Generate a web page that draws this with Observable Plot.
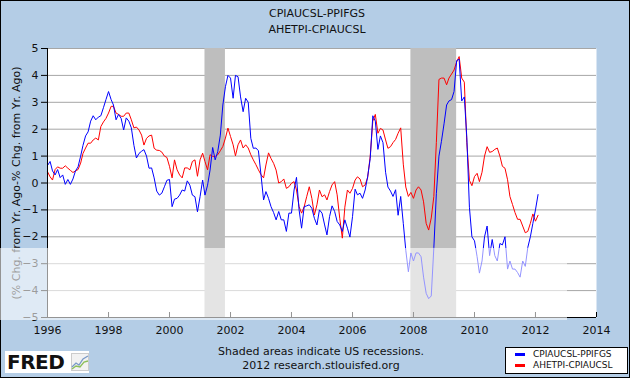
<!DOCTYPE html>
<html><head><meta charset="utf-8">
<script src="https://cdn.jsdelivr.net/npm/d3@7"></script>
<script src="https://cdn.jsdelivr.net/npm/@observablehq/plot@0.6"></script>
<style>
html,body{margin:0;padding:0;background:#fff;}
#chart{position:relative;width:630px;height:378px;background:#b4cde6;box-shadow:inset 0 0 0 1px #000;overflow:hidden;font-family:"DejaVu Sans",sans-serif;color:#111;}
#chart svg.plot{position:absolute;left:0;top:0;}
.t{position:absolute;text-align:center;font-size:11px;line-height:16px;white-space:nowrap;}
#legend{position:absolute;left:505px;top:347px;width:121px;height:25px;background:#fff;border:1px solid #000;font-size:9px;}
#legend .row{position:absolute;left:0;height:11px;line-height:11px;}
#legend .sw{position:absolute;left:9px;top:4px;width:10px;height:3px;}
#legend .lb{position:absolute;left:27px;top:0;white-space:nowrap;}
#logo{position:absolute;left:5px;top:351px;width:84px;height:22px;background:#fff;}
#logo span{position:absolute;left:2px;top:-1px;font-weight:bold;font-size:20px;line-height:24px;color:#111;letter-spacing:-0.5px;}
#logo svg{position:absolute;left:66px;top:2px;}
#wm{position:absolute;left:0;top:248px;width:567px;height:72px;background:rgba(255,255,255,0.58);z-index:5;}
</style>
</head><body>
<div id="chart"></div>
<script>
// Monthly observations, Jan 1996 .. Feb 2012
const startYear = 1996;
const cpiPpi = [ // CPIAUCSL-PPIFGS
  0.65, 0.8, 0.45, 0.3, 0.5, 0.2, 0.3, -0.05, 0.13, -0.05, 0.15, 0.45,
  0.6, 1.0, 1.4, 1.75, 1.9, 2.3, 2.5, 2.35, 2.45, 2.5, 2.8, 3.1,
  3.4, 3.1, 2.9, 2.35, 2.55, 2.4, 1.97, 2.42, 2.3, 2.05, 1.4, 0.93,
  1.1, 1.18, 1.24, 1.0, 0.55, 0.56, 0.19, -0.3, -0.45, -0.38, -0.14, 0.1,
  0.13, -0.88, -0.6, -0.57, -0.45, -0.26, -0.3, 0.08, -0.08, -0.45, -0.51, -1.07,
  -0.51, 0.11, -0.45, -0.08, 0.48, 1.32, 0.86, 1.17, 1.78, 2.9, 3.58, 4.0,
  3.9, 3.15, 4.0, 3.95, 3.2, 2.65, 3.15, 3.0, 1.66, 1.29, 1.3, 1.2,
  0.3, -0.63, -0.32, -0.57, -0.88, -1.1, -1.37, -1.06, -1.37, -1.37, -1.8, -1.12,
  -1.12, -0.26, 0.21, -1.0, -1.68, -0.88, -0.85, -0.81, -0.94, -1.31, -1.56, -1.0,
  -1.12, -1.56, -1.93, -1.25, -0.85, -1.06, -1.43, -1.56, -1.8, -1.37, -1.68, -2.01,
  -1.25, -0.23, -0.44, -0.38, -0.57, -0.26, 0.23, 0.91, 2.5, 2.3, 1.25, 1.75,
  1.5, 0.4, -0.15, -0.3, -0.5, -0.25, -1.2, -0.5, -1.5, -2.5, -3.3, -2.6,
  -2.9, -2.6, -2.6, -2.74, -3.5, -4.1, -4.3, -4.2, -2.4, -0.4, 1.0, 1.55,
  2.2, 2.9, 3.05, 3.1, 3.4, 4.55, 4.6, 3.05, 3.2, 1.7, -0.9, -2.0,
  -2.15, -2.74, -3.35, -2.9, -2.0, -1.6, -2.7, -2.1, -2.7, -2.9, -2.25, -2.3,
  -2.0, -3.2, -2.9, -3.2, -3.2, -3.33, -3.5, -2.9, -3.1, -2.4, -2.0, -1.5,
  -1.0, -0.43
];
const ahetpiCpi = [ // AHETPI-CPIAUCSL
  0.42, 0.23, 0.11, 0.5, 0.6, 0.55, 0.55, 0.64, 0.55, 0.47, 0.39, 0.45,
  0.5, 0.74, 1.1, 1.3, 1.48, 1.48, 1.6, 1.67, 1.6, 2.1, 2.27, 2.4,
  2.6, 2.85, 2.85, 2.6, 2.55, 2.48, 2.48, 2.6, 2.6, 2.35, 2.05, 2.08,
  1.97, 1.78, 1.41, 1.66, 1.75, 1.78, 1.29, 1.22, 1.21, 1.15, 1.0, 0.95,
  0.62, 0.19, 0.86, 0.49, 0.3, 0.19, 0.56, 0.56, 0.49, 0.8, 0.86, 0.25,
  0.86, 1.11, 0.8, 0.49, 1.05, 0.99, 0.99, 1.05, 1.2, 1.36, 1.67, 2.04,
  1.73, 1.42, 1.01, 1.42, 1.6, 1.3, 1.42, 1.3, 1.05, 0.86, 0.68, 0.49,
  0.31, 0.19, 0.67, 1.12, 0.91, 0.73, 0.48, 0.0, 0.05, 0.15, -0.2, -0.14,
  -0.01, 0.05, -0.26, -0.88, -1.12, -0.88, -0.51, -0.14, -0.57, -1.19, -0.81, -0.26,
  -0.51, -0.44, -0.63, -0.32, -0.07, 0.05, -0.44, -1.31, -2.05, -0.9, -0.26, -0.38,
  -0.2, 0.11, 0.23, 0.15, -0.14, -0.07, 0.2, 1.0, 2.3, 2.55, 1.85, 2.03,
  1.97, 1.6, 1.29, 1.35, 1.5, 1.62, 1.85, 2.05, 0.7, -0.15, -0.5, -0.35,
  -0.57, -0.26, -0.14, -0.26, -0.7, -1.5, -1.75, -1.3, -0.5, 1.5, 3.85, 3.9,
  3.9, 3.65, 3.9, 4.05, 4.2, 4.5, 4.7, 3.9, 3.75, 1.5, 0.1, -0.1,
  0.24, 0.36, 0.05, 0.4, 1.0, 1.35, 1.14, 1.17, 1.25, 1.3, 1.0, 0.62,
  0.55, 0.12, -0.5, -0.8, -1.1, -1.35, -1.35, -1.6, -1.85, -1.8, -1.5, -1.15,
  -1.42, -1.2
];
const seriesNames = ["CPIAUCSL-PPIFGS", "AHETPI-CPIAUCSL"];
const seriesColors = ["#0000ff", "#ff0000"];
const recessionStart = ["2001-03-01", "2007-12-01"];
const recessionEnd = ["2001-11-01", "2009-06-01"];
const xTickYears = [1996, 1998, 2000, 2002, 2004, 2006, 2008, 2010, 2012, 2014];
const yTicks = [-5, -4, -3, -2, -1, 0, 1, 2, 3, 4, 5];
const titleLines = ["CPIAUCSL-PPIFGS", "AHETPI-CPIAUCSL"];
const yLabel = "(% Chg. from Yr. Ago-% Chg. from Yr. Ago)";
const footLines = ["Shaded areas indicate US recessions.", "2012 research.stlouisfed.org"];

const toDate = (i) => new Date(Date.UTC(startYear, i, 1));
const blue = cpiPpi.map((v, i) => ({date: toDate(i), value: v}));
const red = ahetpiCpi.map((v, i) => ({date: toDate(i), value: v}));
const recessions = recessionStart.map((s, i) => ({start: new Date(s), end: new Date(recessionEnd[i])}));
const xTicks = xTickYears.map(y => new Date(Date.UTC(y, 0, 1)));
const xDomain = [xTicks[0], xTicks[xTicks.length - 1]];

const plot = Plot.plot({
  width: 630, height: 378,
  marginLeft: 47, marginRight: 34, marginTop: 48, marginBottom: 61,
  style: {background: "transparent", fontFamily: "DejaVu Sans, sans-serif", fontSize: "11px", color: "#111", overflow: "visible"},
  x: {type: "utc", domain: xDomain},
  y: {domain: [-5, 5]},
  marks: [
    Plot.frame({fill: "white", stroke: null}),
    Plot.gridY(yTicks.filter(d => d > -5), {stroke: "#a6a6a6", strokeOpacity: 1}),
    Plot.rect(recessions, {x1: "start", x2: "end", fill: "#bebebe"}),
    Plot.lineY(red, {x: "date", y: "value", stroke: seriesColors[1], strokeWidth: 1}),
    Plot.lineY(blue, {x: "date", y: "value", stroke: seriesColors[0], strokeWidth: 1}),
    Plot.ruleY([-5], {stroke: "#000"}),
    Plot.ruleX([xDomain[0]], {stroke: "#000"}),
    Plot.ruleX(xTicks, {stroke: "#000", insetTop: 264}),
    Plot.axisX(xTicks, {tickSize: 0, tickPadding: 9, tickFormat: d3.utcFormat("%Y"), label: null, fontSize: 11, fill: "#111"}),
    Plot.axisY(yTicks, {tickSize: 6, tickPadding: 3, label: null, fontSize: 11, fill: "#111", stroke: "#000"}),
    Plot.text([yLabel], {frameAnchor: "left", textAnchor: "middle", rotate: -90, dx: -31, fontSize: 11, fill: "#111"})
  ]
});
plot.classList.add("plot");
const chart = document.getElementById("chart");
chart.appendChild(plot);

function addText(txt, left, top, width) {
  const d = document.createElement("div");
  d.className = "t";
  d.style.left = left + "px"; d.style.top = top + "px"; d.style.width = width + "px";
  d.textContent = txt;
  chart.appendChild(d);
}
addText(titleLines[0], 0, 6, 634);
addText(titleLines[1], 0, 22, 634);
addText(footLines[0], 171, 344, 300);
addText(footLines[1], 171, 358, 300);

const wm = document.createElement("div"); wm.id = "wm"; chart.appendChild(wm);

const legend = document.createElement("div"); legend.id = "legend";
seriesNames.forEach((n, i) => {
  const r = document.createElement("div"); r.className = "row"; r.style.top = (1 + i * 11) + "px"; r.style.width = "121px";
  const sw = document.createElement("div"); sw.className = "sw"; sw.style.background = seriesColors[i];
  const lb = document.createElement("div"); lb.className = "lb"; lb.textContent = n;
  r.appendChild(sw); r.appendChild(lb); legend.appendChild(r);
});
chart.appendChild(legend);

const logo = document.createElement("div"); logo.id = "logo";
logo.innerHTML = '<span>FRED</span><svg width="18" height="18" viewBox="0 0 18 18"><rect x="0.5" y="0.5" width="17" height="17" fill="#f2f2f2" stroke="#ccc"/><polyline points="1,14 5,10 8,12 12,6 17,3" fill="none" stroke="#7a9ac8" stroke-width="1.3"/><polyline points="1,16 5,13 9,14 13,9 17,8" fill="none" stroke="#8cbf5a" stroke-width="1.3"/></svg>';
chart.appendChild(logo);
</script>
</body></html>
